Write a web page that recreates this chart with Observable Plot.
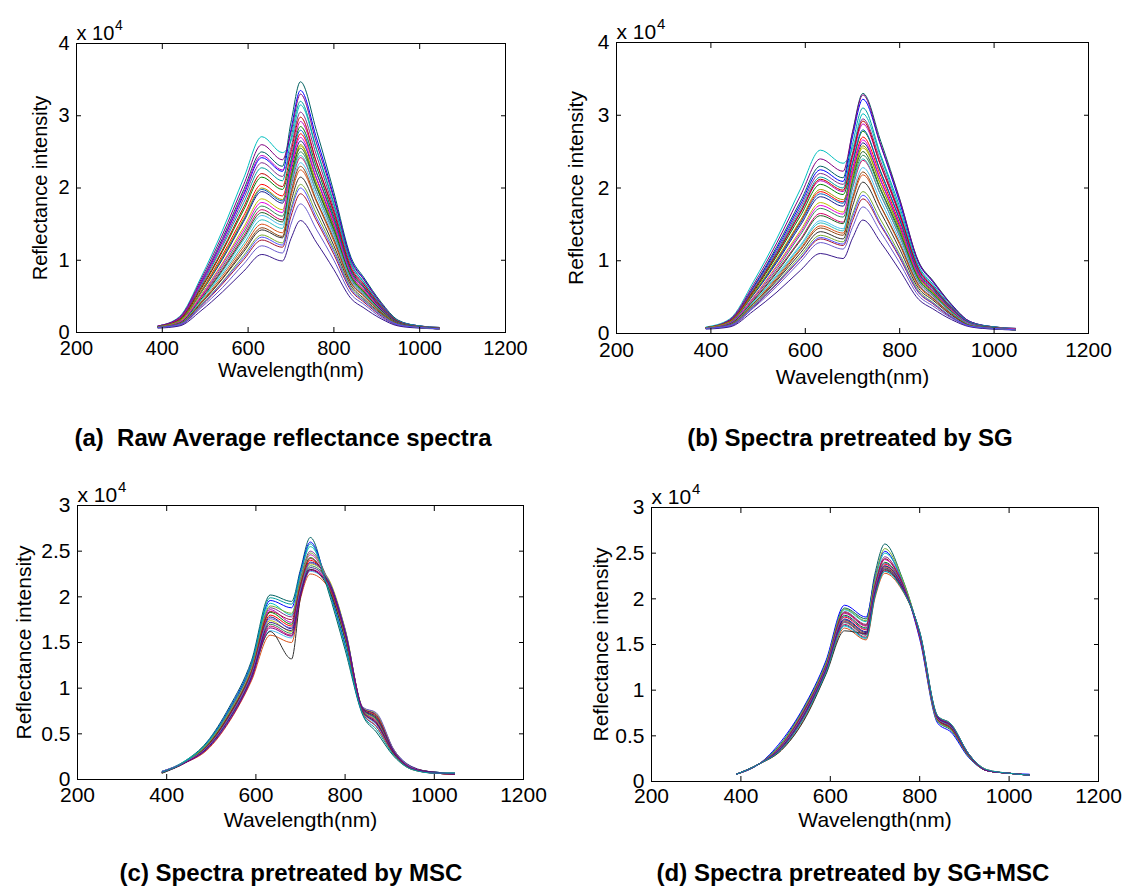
<!DOCTYPE html>
<html><head><meta charset="utf-8">
<script src="https://cdn.jsdelivr.net/npm/d3@7"></script>
<script src="https://cdn.jsdelivr.net/npm/@observablehq/plot@0.6"></script>
<style>
html,body{margin:0;padding:0;background:#fff}
#root{position:relative;width:1126px;height:888px;overflow:hidden;font-family:Arial,"Liberation Sans",sans-serif}
.panel{position:absolute}
.title{position:absolute;width:600px;text-align:center;font-weight:bold;font-size:24px;line-height:28px;color:#000;white-space:pre}
</style></head><body>
<div id="root"></div>
<script>
// ---- data (values in units of 10^4) ----
const wavelengths = [390,440,490,540,590,632,680,700,722,760,800,840,870,910,950,1000,1045];
const xTicks = [200,400,600,800,1000,1200];
const yTicksTop = [0,1,2,3,4];
const yTicksBottom = [0,0.5,1,1.5,2,2.5,3];
const panelTitles = ["(a)  Raw Average reflectance spectra","(b) Spectra pretreated by SG","(c) Spectra pretreated by MSC","(d) Spectra pretreated by SG+MSC"];
const xLabel = "Wavelength(nm)";
const yLabel = "Reflectance intensity";

const rawSpectra = [
[0.09,0.20,0.70,1.30,1.98,2.50,2.30,2.91,3.47,2.78,1.94,1.04,0.76,0.42,0.17,0.09,0.07],
[0.08,0.19,0.68,1.26,1.91,2.42,2.23,2.81,3.35,2.68,1.88,1.01,0.74,0.40,0.16,0.09,0.06],
[0.09,0.22,0.76,1.41,2.14,2.71,2.49,2.65,3.15,2.52,1.76,0.95,0.69,0.38,0.15,0.09,0.07],
[0.08,0.19,0.66,1.22,1.86,2.35,2.16,2.56,3.05,2.44,1.71,0.92,0.67,0.37,0.15,0.08,0.06],
[0.09,0.20,0.69,1.27,1.94,2.45,2.25,2.45,2.92,2.34,1.64,0.88,0.64,0.35,0.14,0.08,0.06],
[0.08,0.17,0.60,1.12,1.70,2.15,1.98,2.39,2.85,2.28,1.60,0.86,0.63,0.34,0.14,0.08,0.06],
[0.08,0.16,0.57,1.07,1.62,2.05,1.89,2.31,2.75,2.20,1.54,0.83,0.61,0.33,0.14,0.08,0.06],
[0.08,0.16,0.55,1.01,1.54,1.95,1.79,2.23,2.65,2.12,1.48,0.80,0.58,0.32,0.13,0.08,0.06],
[0.07,0.15,0.52,0.96,1.46,1.85,1.70,2.17,2.58,2.06,1.44,0.77,0.57,0.31,0.13,0.08,0.06],
[0.08,0.14,0.49,0.91,1.38,1.75,1.61,2.10,2.50,2.00,1.40,0.75,0.55,0.30,0.13,0.08,0.06],
[0.07,0.14,0.48,0.88,1.34,1.70,1.56,2.03,2.42,1.94,1.36,0.73,0.53,0.29,0.12,0.08,0.05],
[0.08,0.13,0.45,0.84,1.28,1.62,1.49,1.97,2.35,1.88,1.32,0.71,0.52,0.28,0.12,0.07,0.06],
[0.07,0.12,0.42,0.78,1.19,1.50,1.38,1.89,2.25,1.80,1.26,0.68,0.50,0.27,0.12,0.07,0.05],
[0.07,0.11,0.40,0.74,1.12,1.42,1.31,1.81,2.15,1.72,1.20,0.65,0.47,0.26,0.11,0.07,0.05],
[0.07,0.11,0.38,0.70,1.07,1.35,1.24,1.72,2.05,1.64,1.15,0.62,0.45,0.25,0.11,0.07,0.05],
[0.07,0.10,0.36,0.67,1.01,1.28,1.18,1.61,1.92,1.54,1.08,0.58,0.42,0.23,0.10,0.07,0.05],
[0.07,0.10,0.34,0.62,0.95,1.20,1.10,1.50,1.78,1.42,1.00,0.53,0.39,0.21,0.10,0.07,0.05],
[0.06,0.09,0.30,0.56,0.85,1.08,0.99,1.30,1.55,1.24,0.87,0.47,0.34,0.19,0.09,0.06,0.05],
[0.09,0.21,0.73,1.35,2.05,2.60,2.39,2.77,3.30,2.61,1.85,0.99,0.73,0.40,0.16,0.09,0.07],
[0.08,0.18,0.64,1.19,1.80,2.28,2.10,2.69,3.20,2.53,1.79,0.96,0.70,0.38,0.16,0.09,0.06],
[0.08,0.18,0.62,1.14,1.74,2.20,2.02,2.50,2.98,2.35,1.67,0.89,0.66,0.36,0.15,0.08,0.06],
[0.08,0.16,0.55,1.03,1.56,1.98,1.82,2.35,2.80,2.21,1.57,0.84,0.62,0.34,0.14,0.08,0.06],
[0.08,0.16,0.56,1.04,1.58,2.00,1.84,2.18,2.60,2.05,1.46,0.78,0.57,0.31,0.13,0.08,0.06],
[0.07,0.14,0.50,0.94,1.42,1.80,1.66,2.27,2.70,2.13,1.51,0.81,0.59,0.32,0.13,0.08,0.06],
[0.07,0.13,0.46,0.86,1.31,1.66,1.53,2.14,2.55,2.01,1.43,0.77,0.56,0.31,0.13,0.08,0.06],
[0.07,0.12,0.44,0.81,1.23,1.56,1.44,2.06,2.45,1.94,1.37,0.74,0.54,0.29,0.12,0.07,0.05],
[0.07,0.12,0.41,0.75,1.15,1.45,1.33,1.93,2.30,1.82,1.29,0.69,0.51,0.28,0.12,0.07,0.05],
[0.07,0.11,0.37,0.69,1.04,1.32,1.21,1.68,2.00,1.58,1.12,0.60,0.44,0.24,0.11,0.07,0.05]
];

const sgSpectra = [
[0.08,0.18,0.64,1.20,1.82,2.30,2.14,2.77,3.30,2.64,1.85,0.99,0.73,0.40,0.16,0.09,0.07],
[0.08,0.18,0.63,1.17,1.78,2.25,2.09,2.70,3.22,2.58,1.80,0.97,0.71,0.39,0.16,0.09,0.06],
[0.09,0.20,0.71,1.31,1.99,2.52,2.34,2.54,3.02,2.42,1.69,0.91,0.66,0.36,0.15,0.09,0.07],
[0.08,0.18,0.62,1.14,1.74,2.20,2.05,2.48,2.95,2.36,1.65,0.89,0.65,0.35,0.14,0.08,0.06],
[0.08,0.17,0.59,1.09,1.66,2.10,1.95,2.42,2.88,2.30,1.61,0.86,0.63,0.35,0.14,0.08,0.06],
[0.08,0.16,0.57,1.07,1.62,2.05,1.91,2.34,2.78,2.22,1.56,0.83,0.61,0.33,0.14,0.08,0.06],
[0.08,0.16,0.55,1.01,1.54,1.95,1.81,2.27,2.70,2.16,1.51,0.81,0.59,0.32,0.13,0.08,0.06],
[0.07,0.15,0.53,0.98,1.49,1.88,1.75,2.20,2.62,2.10,1.47,0.79,0.58,0.31,0.13,0.08,0.06],
[0.08,0.14,0.50,0.94,1.42,1.80,1.67,2.14,2.55,2.04,1.43,0.77,0.56,0.31,0.13,0.08,0.06],
[0.07,0.14,0.48,0.89,1.36,1.72,1.60,2.06,2.45,1.96,1.37,0.74,0.54,0.29,0.12,0.08,0.05],
[0.08,0.13,0.46,0.86,1.30,1.65,1.53,2.00,2.38,1.90,1.33,0.71,0.52,0.29,0.12,0.07,0.06],
[0.07,0.12,0.43,0.81,1.22,1.55,1.44,1.92,2.28,1.82,1.28,0.68,0.50,0.27,0.12,0.07,0.05],
[0.07,0.12,0.41,0.77,1.17,1.48,1.38,1.83,2.18,1.74,1.22,0.65,0.48,0.26,0.11,0.07,0.05],
[0.07,0.11,0.39,0.73,1.11,1.40,1.30,1.75,2.08,1.66,1.16,0.62,0.46,0.25,0.11,0.07,0.05],
[0.07,0.11,0.38,0.70,1.07,1.35,1.26,1.64,1.95,1.56,1.09,0.59,0.43,0.23,0.10,0.07,0.05],
[0.07,0.10,0.36,0.68,1.03,1.30,1.21,1.55,1.85,1.48,1.04,0.56,0.41,0.22,0.10,0.07,0.05],
[0.07,0.10,0.35,0.65,0.99,1.25,1.16,1.46,1.74,1.39,0.97,0.52,0.38,0.21,0.10,0.06,0.05],
[0.06,0.09,0.31,0.57,0.87,1.10,1.03,1.31,1.56,1.25,0.87,0.47,0.34,0.19,0.09,0.06,0.05],
[0.08,0.19,0.67,1.25,1.90,2.40,2.23,2.76,3.28,2.59,1.84,0.98,0.72,0.39,0.16,0.09,0.07],
[0.08,0.17,0.60,1.12,1.70,2.15,2.00,2.60,3.10,2.45,1.74,0.93,0.68,0.37,0.15,0.09,0.06],
[0.08,0.17,0.59,1.10,1.67,2.12,1.97,2.45,2.92,2.31,1.64,0.88,0.64,0.35,0.14,0.08,0.06],
[0.08,0.15,0.54,1.00,1.52,1.92,1.79,2.35,2.80,2.21,1.57,0.84,0.62,0.34,0.14,0.08,0.06],
[0.08,0.16,0.55,1.03,1.56,1.98,1.84,2.17,2.58,2.04,1.44,0.77,0.57,0.31,0.13,0.08,0.06],
[0.07,0.14,0.49,0.92,1.39,1.76,1.64,2.23,2.66,2.10,1.49,0.80,0.59,0.32,0.13,0.08,0.06],
[0.07,0.13,0.45,0.84,1.28,1.62,1.51,2.10,2.50,1.98,1.40,0.75,0.55,0.30,0.12,0.08,0.05],
[0.07,0.12,0.43,0.79,1.20,1.52,1.41,2.02,2.40,1.90,1.34,0.72,0.53,0.29,0.12,0.07,0.05],
[0.07,0.12,0.41,0.75,1.15,1.45,1.35,1.86,2.22,1.75,1.24,0.67,0.49,0.27,0.11,0.07,0.05],
[0.07,0.11,0.37,0.69,1.04,1.32,1.23,1.60,1.90,1.50,1.06,0.57,0.42,0.23,0.10,0.07,0.05]
];

const mscSpectra = [
[0.08,0.20,0.41,0.79,1.30,2.02,1.95,2.30,2.65,2.10,1.42,0.70,0.52,0.25,0.11,0.07,0.06],
[0.09,0.19,0.40,0.77,1.27,1.96,1.88,2.28,2.60,2.14,1.48,0.72,0.58,0.27,0.12,0.08,0.07],
[0.08,0.20,0.39,0.75,1.25,1.93,1.80,2.24,2.55,2.17,1.52,0.74,0.62,0.28,0.12,0.07,0.06],
[0.07,0.19,0.38,0.74,1.23,1.88,1.78,2.20,2.50,2.20,1.56,0.76,0.66,0.29,0.12,0.08,0.07],
[0.08,0.19,0.37,0.72,1.20,1.86,1.72,2.17,2.46,2.18,1.58,0.75,0.64,0.30,0.13,0.07,0.06],
[0.09,0.19,0.37,0.71,1.19,1.83,1.70,2.14,2.43,2.16,1.60,0.77,0.68,0.31,0.13,0.08,0.07],
[0.08,0.18,0.36,0.70,1.17,1.80,1.68,2.11,2.40,2.19,1.62,0.78,0.70,0.31,0.13,0.07,0.06],
[0.08,0.18,0.35,0.69,1.16,1.78,1.65,2.09,2.38,2.21,1.64,0.78,0.71,0.32,0.14,0.08,0.07],
[0.07,0.19,0.35,0.68,1.14,1.74,1.62,2.07,2.36,2.22,1.65,0.79,0.72,0.32,0.13,0.07,0.06],
[0.08,0.18,0.34,0.67,1.13,1.70,1.60,2.05,2.34,2.20,1.63,0.77,0.66,0.30,0.12,0.08,0.07],
[0.08,0.18,0.34,0.66,1.12,1.68,1.58,2.02,2.30,2.18,1.61,0.76,0.63,0.29,0.12,0.07,0.06],
[0.09,0.18,0.33,0.65,1.10,1.63,1.55,2.00,2.28,2.15,1.58,0.74,0.60,0.28,0.12,0.08,0.07],
[0.08,0.18,0.32,0.63,1.08,1.58,1.50,1.98,2.25,2.12,1.55,0.73,0.58,0.27,0.11,0.07,0.06],
[0.07,0.18,0.36,0.70,1.15,1.62,1.32,2.00,2.30,2.12,1.54,0.74,0.62,0.28,0.12,0.07,0.06],
[0.08,0.19,0.38,0.73,1.21,1.90,1.82,2.18,2.48,2.19,1.57,0.75,0.65,0.30,0.12,0.07,0.07],
[0.08,0.18,0.36,0.70,1.18,1.84,1.75,2.13,2.42,2.17,1.60,0.77,0.69,0.31,0.13,0.08,0.06],
[0.09,0.19,0.35,0.68,1.15,1.76,1.66,2.08,2.37,2.21,1.64,0.79,0.73,0.32,0.13,0.07,0.07],
[0.08,0.18,0.34,0.66,1.12,1.72,1.63,2.04,2.32,2.19,1.62,0.77,0.67,0.30,0.12,0.08,0.06],
[0.08,0.18,0.33,0.64,1.10,1.66,1.57,2.01,2.29,2.16,1.59,0.75,0.61,0.29,0.12,0.07,0.06],
[0.08,0.19,0.40,0.76,1.26,1.99,1.92,2.26,2.58,2.12,1.46,0.71,0.55,0.26,0.11,0.07,0.07]
];

const sgMscSpectra = [
[0.08,0.19,0.42,0.80,1.30,1.90,1.78,2.28,2.60,2.24,1.60,0.66,0.56,0.27,0.12,0.09,0.07],
[0.08,0.19,0.44,0.81,1.32,1.93,1.80,2.24,2.52,2.20,1.56,0.64,0.54,0.26,0.12,0.09,0.08],
[0.08,0.19,0.41,0.78,1.29,1.88,1.75,2.20,2.50,2.22,1.60,0.66,0.57,0.27,0.12,0.09,0.07],
[0.08,0.19,0.40,0.77,1.27,1.86,1.72,2.16,2.46,2.19,1.58,0.67,0.58,0.28,0.12,0.09,0.07],
[0.08,0.19,0.39,0.76,1.26,1.84,1.70,2.14,2.43,2.18,1.59,0.68,0.58,0.28,0.12,0.09,0.07],
[0.08,0.19,0.38,0.75,1.25,1.82,1.68,2.12,2.40,2.17,1.60,0.68,0.59,0.28,0.12,0.09,0.07],
[0.08,0.19,0.38,0.74,1.24,1.80,1.66,2.10,2.38,2.16,1.61,0.69,0.60,0.29,0.12,0.09,0.07],
[0.08,0.19,0.37,0.73,1.23,1.78,1.64,2.08,2.36,2.15,1.62,0.70,0.61,0.29,0.12,0.09,0.07],
[0.08,0.19,0.37,0.72,1.22,1.76,1.62,2.07,2.35,2.14,1.62,0.70,0.61,0.29,0.12,0.09,0.07],
[0.08,0.19,0.36,0.71,1.21,1.74,1.60,2.05,2.33,2.13,1.63,0.71,0.62,0.30,0.12,0.09,0.07],
[0.08,0.19,0.35,0.70,1.20,1.72,1.58,2.04,2.31,2.12,1.63,0.71,0.62,0.30,0.12,0.09,0.07],
[0.08,0.19,0.35,0.69,1.19,1.70,1.56,2.03,2.30,2.11,1.64,0.72,0.63,0.30,0.13,0.09,0.07],
[0.08,0.19,0.34,0.67,1.18,1.68,1.55,2.01,2.28,2.10,1.64,0.72,0.63,0.30,0.13,0.09,0.07],
[0.08,0.19,0.34,0.66,1.17,1.65,1.62,2.05,2.32,2.12,1.62,0.70,0.60,0.29,0.12,0.09,0.07],
[0.08,0.19,0.41,0.79,1.29,1.89,1.76,2.22,2.55,2.23,1.60,0.66,0.57,0.27,0.12,0.09,0.07],
[0.08,0.19,0.39,0.76,1.26,1.85,1.71,2.15,2.44,2.18,1.59,0.68,0.58,0.28,0.12,0.09,0.07],
[0.08,0.19,0.38,0.74,1.24,1.81,1.67,2.11,2.39,2.16,1.61,0.69,0.60,0.29,0.12,0.09,0.07],
[0.08,0.19,0.37,0.72,1.22,1.77,1.63,2.08,2.36,2.15,1.62,0.70,0.61,0.29,0.12,0.09,0.07],
[0.08,0.19,0.36,0.71,1.21,1.75,1.61,2.06,2.34,2.13,1.63,0.71,0.62,0.30,0.12,0.09,0.07],
[0.08,0.19,0.35,0.69,1.19,1.71,1.57,2.03,2.30,2.11,1.64,0.72,0.63,0.30,0.13,0.09,0.07]
];

// ---- styles / layout ----
const lineColors = ["#006060","#0000ff","#00bfbf","#7e2f8e","#bf00bf","#008000","#ff0000","#1a1a8c","#bfbf00","#2e8b57","#cc0066","#4dbeee","#d95319","#303030","#77ac30","#a2142f","#6a5acd","#3a1a8c","#800080","#00a0a0","#c00000","#0060c0","#9a9a00","#e000e0","#206020","#30c0c0","#8b4513","#5050ff"];
const FONT = 'Arial, "Liberation Sans", sans-serif';

const panels = [
  {spectra: rawSpectra, yTicks: yTicksTop, yMax: 4, left: 0, top: 0, ml: 76, mr: 58, mt: 43, mb: 68, fs: 20, tp: 8, xl: 38, yl: 36, tx: 283, ty: 438},
  {spectra: sgSpectra, yTicks: yTicksTop, yMax: 4, left: 563, top: 0, ml: 53, mr: 38, mt: 42, mb: 67, fs: 21, tp: 9, xl: 44, yl: 40, tx: 850, ty: 438},
  {spectra: mscSpectra, yTicks: yTicksBottom, yMax: 3, left: 0, top: 440, ml: 77, mr: 40, mt: 65, mb: 61, fs: 21, tp: 8, xl: 41, yl: 53, tx: 291, ty: 873},
  {spectra: sgMscSpectra, yTicks: yTicksBottom, yMax: 3, left: 563, top: 440, ml: 88, mr: 28, mt: 67, mb: 59, fs: 21, tp: 7, xl: 39, yl: 50, tx: 853, ty: 873}
];

const root = document.getElementById("root");
const blank = () => "";
panels.forEach((p, k) => {
  const rows = p.spectra.flatMap((curve, i) => curve.map((v, j) => ({w: wavelengths[j], v, id: i})));
  const chart = Plot.plot({
    width: 563, height: 400,
    marginLeft: p.ml, marginRight: p.mr, marginTop: p.mt, marginBottom: p.mb,
    style: {fontFamily: FONT, fontSize: p.fs + "px", color: "#000", background: "transparent", overflow: "visible"},
    x: {domain: [200, 1200]},
    y: {domain: [0, p.yMax]},
    color: {type: "identity"},
    marks: [
      Plot.line(rows, {x: "w", y: "v", z: "id", stroke: d => lineColors[d.id % lineColors.length], strokeWidth: 1, curve: "monotone-x"}),
      Plot.frame({stroke: "#000", strokeWidth: 1}),
      // inward tick marks on all four sides
      Plot.axisX(xTicks, {anchor: "bottom", tickSize: 5, dy: -5, tickFormat: blank, label: null, stroke: "#000"}),
      Plot.axisX(xTicks, {anchor: "top", tickSize: 5, dy: 5, tickFormat: blank, label: null, stroke: "#000"}),
      Plot.axisY(p.yTicks, {anchor: "left", tickSize: 5, dx: 5, tickFormat: blank, label: null, stroke: "#000"}),
      Plot.axisY(p.yTicks, {anchor: "right", tickSize: 5, dx: -5, tickFormat: blank, label: null, stroke: "#000"}),
      // tick labels
      Plot.axisX(xTicks, {anchor: "bottom", tickSize: 0, tickPadding: p.tp, tickFormat: d => String(d), label: null, fontSize: p.fs, fill: "#000"}),
      Plot.axisY(p.yTicks, {anchor: "left", tickSize: 0, tickPadding: 7, tickFormat: d => String(d), label: null, fontSize: p.fs, fill: "#000"}),
      // axis titles and exponent
      Plot.text([xLabel], {text: d => d, frameAnchor: "bottom", dy: p.xl, lineAnchor: "middle", fontSize: p.fs, fill: "#000"}),
      Plot.text([yLabel], {text: d => d, frameAnchor: "left", dx: -p.yl, rotate: -90, lineAnchor: "middle", textAnchor: "middle", fontSize: p.fs, fill: "#000"}),
      Plot.text(["x 10"], {text: d => d, frameAnchor: "top-left", textAnchor: "start", lineAnchor: "bottom", dy: -4, fontSize: p.fs, fill: "#000"}),
      Plot.text(["4"], {text: d => d, frameAnchor: "top-left", textAnchor: "start", lineAnchor: "bottom", dx: p.fs * 1.93, dy: -14, fontSize: Math.round(p.fs * 0.7), fill: "#000"})
    ]
  });
  const holder = document.createElement("div");
  holder.className = "panel";
  holder.style.left = p.left + "px";
  holder.style.top = p.top + "px";
  holder.appendChild(chart);
  root.appendChild(holder);
  const t = document.createElement("div");
  t.className = "title";
  t.textContent = panelTitles[k];
  t.style.left = (p.tx - 300) + "px";
  t.style.top = (p.ty - 14) + "px";
  root.appendChild(t);
});
</script>
</body></html>
